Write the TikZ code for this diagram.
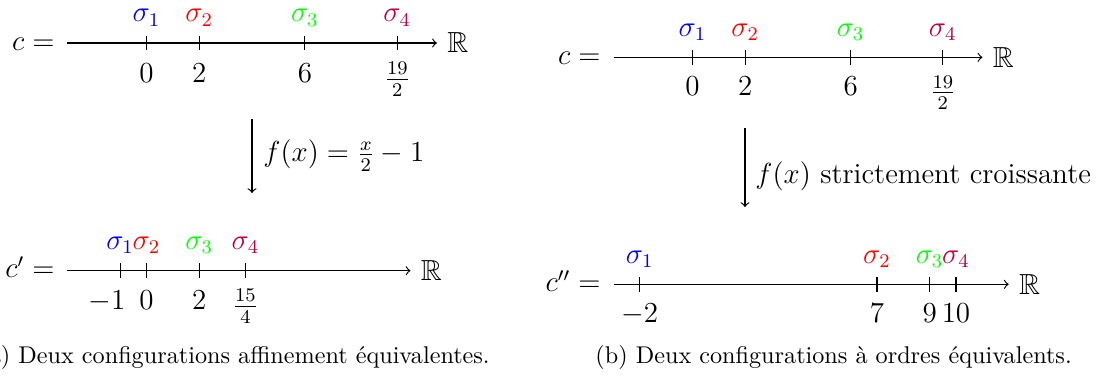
\documentclass[tikz,border=0pt]{standalone}
\usepackage{amssymb}
\usepackage{fontspec}
\tikzset{
  axisline/.style={line width=0.48pt, ->},
  tickmark/.style={line width=0.48pt},
  maparrow/.style={line width=0.48pt, ->},
  lab/.style={inner sep=0pt, font=\fontsize{12}{14}\selectfont},
  siglab/.style={lab, anchor=base},
  numlab/.style={lab, anchor=north},
  eqlab/.style={lab, anchor=base east},
  rlab/.style={lab, anchor=west},
  caplab/.style={inner sep=0pt, anchor=base west, font=\fontsize{10}{12}\selectfont},
}
\begin{document}
\begin{tikzpicture}[x=0.41322pt, y=-0.41322pt]
\useasboundingbox (0,0) rectangle (1107,376);

% ---------- left panel, top line ----------
\coordinate (LTs) at (67.3,43);
\coordinate (LTe) at (436.9,43);
\draw[axisline] (LTs) -- (LTe);
\node[eqlab] (LTc) at (55,50.3) {$c =$};
\node[rlab] (LTR) at (446.9,43) {$\mathbb{R}$};
\foreach \x in {146.5,199.3,304.9,397.3} \draw[tickmark] (\x,35.7) -- (\x,50.3);
\node[siglab, text=blue]   (LTs1) at (146.5,22) {$\sigma_1$};
\node[siglab, text=red]    (LTs2) at (199.3,22) {$\sigma_2$};
\node[siglab, text=green]  (LTs3) at (304.9,22) {$\sigma_3$};
\node[siglab, text=purple] (LTs4) at (397.3,22) {$\sigma_4$};
\node[numlab] (LTn1) at (146.5,63) {$0$};
\node[numlab] (LTn2) at (199.3,63) {$2$};
\node[numlab] (LTn3) at (304.9,63) {$6$};
\node[numlab] (LTn4) at (397.3,62) {$\frac{19}{2}$};

% ---------- left panel, map ----------
\coordinate (LAt) at (252,119);
\coordinate (LAb) at (252,193);
\draw[maparrow] (LAt) -- (LAb);
\node[lab, anchor=west] (LAf) at (263,156) {$f(x) = \frac{x}{2} - 1$};

% ---------- left panel, bottom line ----------
\coordinate (LBs) at (67.3,270.7);
\coordinate (LBe) at (410.5,270.7);
\draw[axisline] (LBs) -- (LBe);
\node[eqlab] (LBc) at (55,278) {$c' =$};
\node[rlab] (LBR) at (420.5,270.7) {$\mathbb{R}$};
\foreach \x in {120.1,146.5,199.3,245.5} \draw[tickmark] (\x,263.4) -- (\x,278);
\node[siglab, text=blue]   (LBs1) at (120.1,249.5) {$\sigma_1$};
\node[siglab, text=red]    (LBs2) at (146.5,249.5) {$\sigma_2$};
\node[siglab, text=green]  (LBs3) at (199.3,249.5) {$\sigma_3$};
\node[siglab, text=purple] (LBs4) at (245.5,249.5) {$\sigma_4$};
\node[numlab] (LBn1) at (107,290) {$-1$};
\node[numlab] (LBn2) at (146.5,290) {$0$};
\node[numlab] (LBn3) at (199.3,290) {$2$};
\node[numlab] (LBn4) at (245.5,289) {$\frac{15}{4}$};

\node[caplab] (Lcap) at (-21,363) {(a) Deux configurations affinement équivalentes.};

% ---------- right panel, top line ----------
\coordinate (RTs) at (613.5,57.3);
\coordinate (RTe) at (982.4,57.3);
\draw[axisline] (RTs) -- (RTe);
\node[eqlab] (RTc) at (601,64.6) {$c =$};
\node[rlab] (RTR) at (992.4,57.3) {$\mathbb{R}$};
\foreach \x in {692.5,745.2,850.6,942.8} \draw[tickmark] (\x,50) -- (\x,64.6);
\node[siglab, text=blue]   (RTs1) at (692.5,36.3) {$\sigma_1$};
\node[siglab, text=red]    (RTs2) at (745.2,36.3) {$\sigma_2$};
\node[siglab, text=green]  (RTs3) at (850.6,36.3) {$\sigma_3$};
\node[siglab, text=purple] (RTs4) at (942.8,36.3) {$\sigma_4$};
\node[numlab] (RTn1) at (692.5,76.5) {$0$};
\node[numlab] (RTn2) at (745.2,76.5) {$2$};
\node[numlab] (RTn3) at (850.6,76.5) {$6$};
\node[numlab] (RTn4) at (942.8,75.5) {$\frac{19}{2}$};

% ---------- right panel, map ----------
\coordinate (RAt) at (745,128);
\coordinate (RAb) at (745,207);
\draw[maparrow] (RAt) -- (RAb);
\node[lab, anchor=west] (RAf) at (755,176) {$f(x)$ strictement croissante};

% ---------- right panel, bottom line ----------
\coordinate (RBs) at (613.5,284.3);
\coordinate (RBe) at (1008.7,284.3);
\draw[axisline] (RBs) -- (RBe);
\node[eqlab] (RBc) at (601,291.6) {$c'' =$};
\node[rlab] (RBR) at (1018.7,284.3) {$\mathbb{R}$};
\foreach \x in {639.8,876.95,929.65,956.0} \draw[tickmark] (\x,277) -- (\x,291.6);
\node[siglab, text=blue]   (RBs1) at (639.8,263.3) {$\sigma_1$};
\node[siglab, text=red]    (RBs2) at (876.95,263.3) {$\sigma_2$};
\node[siglab, text=green]  (RBs3) at (929.65,263.3) {$\sigma_3$};
\node[siglab, text=purple] (RBs4) at (956.0,263.3) {$\sigma_4$};
\node[numlab] (RBn1) at (639.8,303.5) {$-2$};
\node[numlab] (RBn2) at (876.95,303.5) {$7$};
\node[numlab] (RBn3) at (929.65,303.5) {$9$};
\node[numlab] (RBn4) at (956.0,303.5) {$10$};

\node[caplab] (Rcap) at (595,363) {(b) Deux configurations à ordres équivalents.};
\end{tikzpicture}
\end{document}
